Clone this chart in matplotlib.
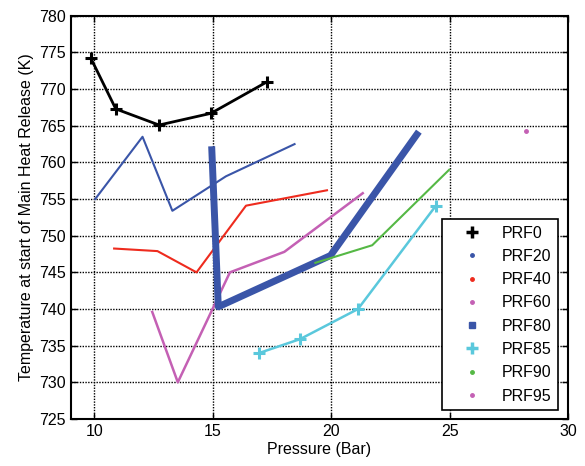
import matplotlib
matplotlib.use("Agg")
import matplotlib.pyplot as plt
from matplotlib.lines import Line2D

plt.rcParams['font.family'] = ['Liberation Sans', 'DejaVu Sans']

# Data (Pressure in Bar, Temperature in K)
prf0_x = [9.85, 10.9, 12.73, 14.92, 17.29]
prf0_y = [774.2, 767.3, 765.1, 766.7, 771.0]

prf20_x = [10.03, 12.03, 13.29, 15.55, 18.45]
prf20_y = [755.0, 763.5, 753.4, 758.1, 762.5]

prf40_x = [10.83, 12.66, 14.31, 16.4, 19.82]
prf40_y = [748.25, 747.9, 745.0, 754.1, 756.2]

prf60_x = [12.44, 13.52, 15.72, 18.02, 21.33]
prf60_y = [739.6, 730.0, 745.0, 747.8, 755.8]

prf80_x = [14.95, 15.23, 19.97, 23.7]
prf80_y = [762.2, 740.3, 747.3, 764.2]

prf85_x = [16.96, 18.69, 21.13, 24.42]
prf85_y = [734.0, 735.9, 740.0, 754.1]

prf90_x = [19.33, 21.73, 24.98]
prf90_y = [746.3, 748.7, 759.0]

prf95_x = [28.24]
prf95_y = [764.35]

labels = ['PRF0', 'PRF20', 'PRF40', 'PRF60', 'PRF80', 'PRF85', 'PRF90', 'PRF95']

c_black = '#000000'
c_blue = '#3a55a8'
c_red = '#ee2b1e'
c_mag = '#c460b4'
c_cyan = '#5ac8dc'
c_green = '#55b845'

fig = plt.figure(figsize=(5.85, 4.66), dpi=100)
ax = fig.add_axes([0.121, 0.101, 0.850, 0.865])

ax.plot(prf0_x, prf0_y, color=c_black, lw=2, marker='+', ms=9, mew=2.2)
ax.plot(prf20_x, prf20_y, color=c_blue, lw=1.5)
ax.plot(prf40_x, prf40_y, color=c_red, lw=1.5)
ax.plot(prf60_x, prf60_y, color=c_mag, lw=1.8)
ax.plot(prf80_x, prf80_y, color=c_blue, lw=5, solid_capstyle='butt')
ax.plot(prf85_x, prf85_y, color=c_cyan, lw=1.8, marker='+', ms=9, mew=2.2)
ax.plot(prf90_x, prf90_y, color=c_green, lw=1.5)
ax.plot(prf95_x, prf95_y, color=c_mag, ls='none', marker='o', ms=2.5)

ax.set_xlim(9, 30)
ax.set_ylim(725, 780)
ax.set_xticks([10, 15, 20, 25, 30])
ax.set_yticks(list(range(725, 781, 5)))
ax.tick_params(direction='in', labelsize=11.5, length=4, width=1, top=True, right=True,
               labeltop=False, labelright=False)
ax.grid(True, color='black', linestyle=(0, (1, 1)), linewidth=1)
for s in ax.spines.values():
    s.set_linewidth(1.5)

ax.set_xlabel('Pressure (Bar)', fontsize=11.5, labelpad=2)
ax.set_ylabel('Temperature at start of Main Heat Release (K)', fontsize=11.5, labelpad=4)

handles = [
    Line2D([], [], ls='none', color=c_black, marker='+', ms=9, mew=2.5),
    Line2D([], [], ls='none', color=c_blue, marker='o', ms=2.5),
    Line2D([], [], ls='none', color=c_red, marker='o', ms=2.5),
    Line2D([], [], ls='none', color=c_mag, marker='o', ms=2.5),
    Line2D([], [], ls='none', color=c_blue, marker='s', ms=5),
    Line2D([], [], ls='none', color=c_cyan, marker='+', ms=9, mew=2.5),
    Line2D([], [], ls='none', color=c_green, marker='o', ms=2.5),
    Line2D([], [], ls='none', color=c_mag, marker='o', ms=2.5),
]
leg = ax.legend(handles, labels, loc='lower right', bbox_to_anchor=(0.98, 0.022),
                fontsize=11.5, frameon=True, fancybox=False, edgecolor='black',
                borderpad=0.4, labelspacing=0.52, handletextpad=0.35, handlelength=3.0,
                borderaxespad=0)
leg.get_frame().set_linewidth(1.2)
leg.get_frame().set_alpha(1)

fig.savefig('out.png', dpi=100)
